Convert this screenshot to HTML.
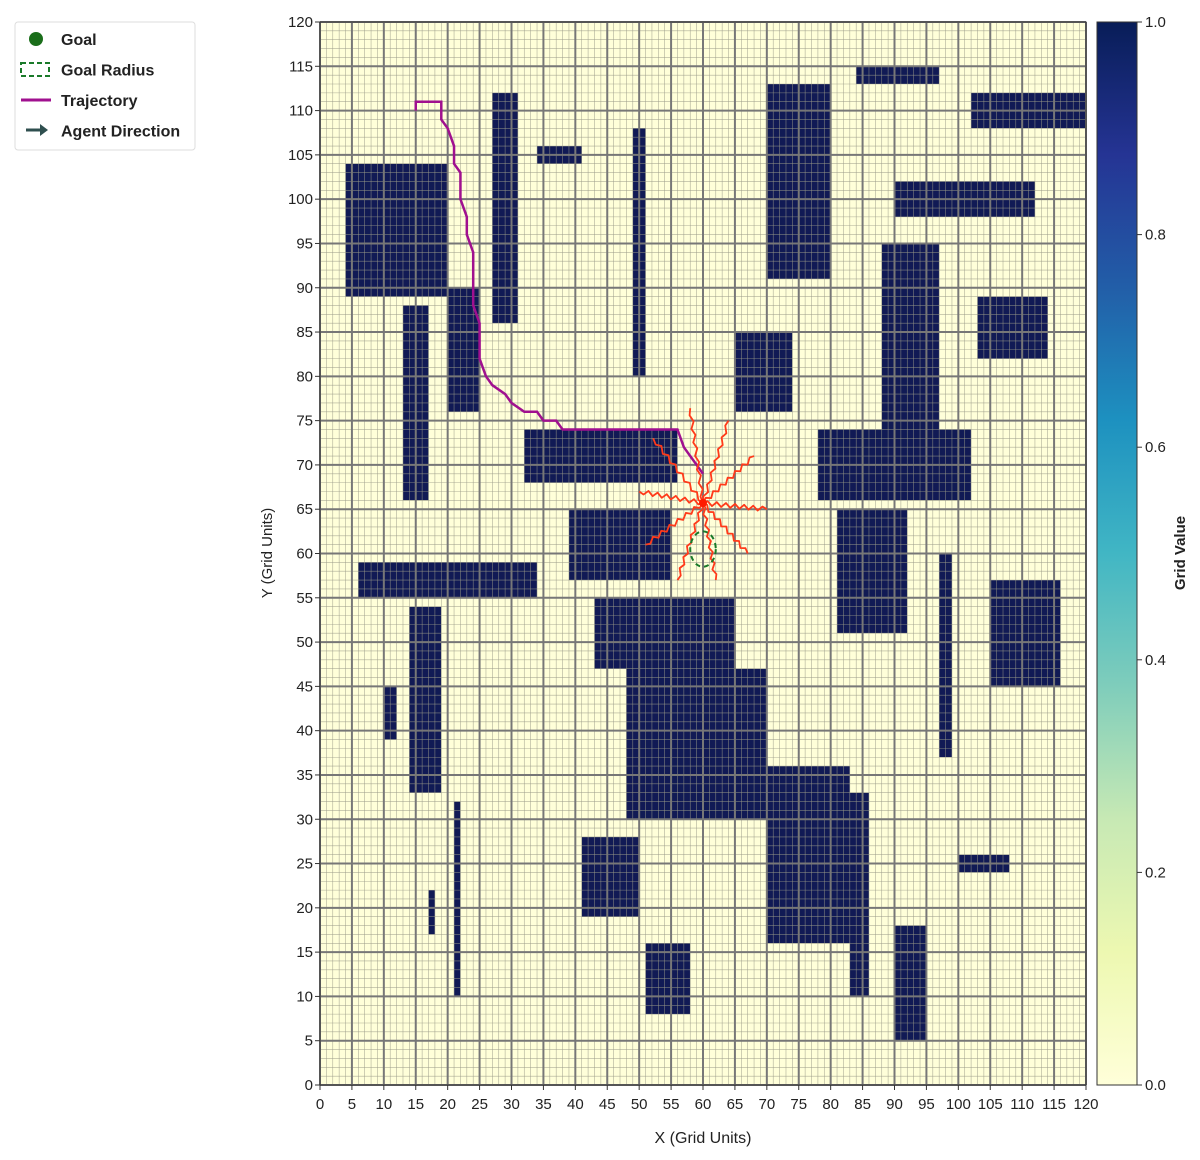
<!DOCTYPE html>
<html><head><meta charset="utf-8"><style>
body{margin:0;background:#fff;font-family:"Liberation Sans",sans-serif;}
</style></head><body>
<svg id="chart" width="1200" height="1155" xmlns="http://www.w3.org/2000/svg">
<defs><linearGradient id="cb" x1="0" y1="1" x2="0" y2="0">
<stop offset="0" stop-color="#ffffd9"/><stop offset="0.125" stop-color="#edf8b1"/><stop offset="0.25" stop-color="#c7e9b4"/><stop offset="0.375" stop-color="#7fcdbb"/><stop offset="0.5" stop-color="#41b6c4"/><stop offset="0.625" stop-color="#1d91c0"/><stop offset="0.75" stop-color="#225ea8"/><stop offset="0.875" stop-color="#253494"/><stop offset="1" stop-color="#081d58"/></linearGradient></defs>
<g id="plot"></g>
</svg>
<script>
const obstacles=[[4,20,89,104],[27,31,86,112],[34,41,104,106],[49,51,80,108],[70,80,91,113],[84,97,113,115],[102,120,108,112],[90,112,98,102],[88,97,74,95],[103,114,82,89],[65,74,76,85],[78,102,66,74],[13,17,66,88],[20,25,76,90],[32,56,68,74],[39,55,57,65],[81,92,51,65],[6,34,55,59],[14,19,33,54],[10,12,39,45],[43,65,47,55],[48,70,30,47],[70,83,16,36],[83,86,10,33],[97,99,37,60],[105,116,45,57],[100,108,24,26],[41,50,19,28],[21,22,10,32],[17,18,17,22],[51,58,8,16],[90,95,5,18]];
const trajX=[15,15,19,19,20,21,21,22,22,23,23,24,24,25,25,26,27,29,30,32,34,35,37,38,41,56,57,60];
const trajY=[110,111,111,109,108,106,104,103,100,98,96,94,88,86,82,80,79,78,77,76,76,75,75,74,74,74,72,69];
const rayEndX=[58,64,52.2,68,50,70,51,67,56,62];
const rayEndY=[76.4,75,73,71,67,65,61,60,57,57];
const agent=[60,65.7];
const goal=[60,60.5];
const xTicks=[0,5,10,15,20,25,30,35,40,45,50,55,60,65,70,75,80,85,90,95,100,105,110,115,120];
const cbTicks=[0.0,0.2,0.4,0.6,0.8,1.0];
const NS="http://www.w3.org/2000/svg";
const X0=320,X1=1086,Y0=1085,Y1=22;
const sx=v=>X0+(X1-X0)*v/120, sy=v=>Y0-(Y0-Y1)*v/120;
const g=document.getElementById('plot');
function mk(t,a,p){const e=document.createElementNS(NS,t);for(const k in a)e.setAttribute(k,a[k]);(p||g).appendChild(e);return e;}
let bg=mk('rect',{x:X0,y:Y1,width:X1-X0,height:Y0-Y1,fill:'#ffffd9'});


obstacles.forEach((o,i)=>{const r=mk('rect',{x:sx(o[0]),y:sy(o[3]),width:sx(o[1])-sx(o[0]),height:sy(o[2])-sy(o[3]),fill:'#111a55'});

});
for(let i=0;i<=120;i++){if(i%5==0)continue;
mk('line',{x1:sx(i),x2:sx(i),y1:Y1,y2:Y0,stroke:'#9a9a88','stroke-width':0.6,opacity:0.8});
mk('line',{y1:sy(i),y2:sy(i),x1:X0,x2:X1,stroke:'#9a9a88','stroke-width':0.6,opacity:0.8});}
for(let i=0;i<=120;i+=5){
mk('line',{x1:sx(i),x2:sx(i),y1:Y1,y2:Y0,stroke:'#777','stroke-width':2});
mk('line',{y1:sy(i),y2:sy(i),x1:X0,x2:X1,stroke:'#777','stroke-width':2});}
let fr=mk('rect',{x:X0,y:Y1,width:X1-X0,height:Y0-Y1,fill:'none',stroke:'#333','stroke-width':1});


xTicks.forEach(t=>{mk('line',{x1:sx(t),x2:sx(t),y1:Y0,y2:Y0+5,stroke:'#333'});
let tx=mk('text',{x:sx(t),y:Y0+24,'text-anchor':'middle','font-size':15,fill:'#222'});tx.textContent=t;


mk('line',{y1:sy(t),y2:sy(t),x1:X0-5,x2:X0,stroke:'#333'});
let ty=mk('text',{x:X0-7,y:sy(t)+5,'text-anchor':'end','font-size':15,fill:'#222'});ty.textContent=t;

});
let pts=trajX.map((v,i)=>sx(v)+','+sy(trajY[i])).join(' ');
let tr=mk('polyline',{points:pts,fill:'none',stroke:'#a0108f','stroke-width':2.5});


rayEndX.forEach((ex,i)=>{const ey=rayEndY[i];let p=[];const n=14;for(let k=0;k<=n;k++){const f=k/n;const j=(k%2?0.25:-0.25)*(k>0&&k<n?1:0);const dx=ex-agent[0],dy=ey-agent[1],L=Math.hypot(dx,dy);
p.push(sx(agent[0]+dx*f-dy/L*j)+','+sy(agent[1]+dy*f+dx/L*j));}
const r=mk('polyline',{points:p.join(' '),fill:'none',stroke:'#ff3a1a','stroke-width':1.8,'stroke-linejoin':'round'});

});
let gc=mk('ellipse',{cx:sx(goal[0]),cy:sy(goal[1]),rx:sx(2)-sx(0),ry:sy(0)-sy(2),fill:'none',stroke:'#1a7a2a','stroke-width':2,'stroke-dasharray':'5,4'});


let ag=mk('circle',{cx:sx(agent[0]),cy:sy(agent[1]),r:4,fill:'#ff1a00'});


let xl=mk('text',{x:(X0+X1)/2,y:1143,'text-anchor':'middle','font-size':16,fill:'#222'});xl.textContent='X (Grid Units)';


let yl=mk('text',{x:0,y:0,'text-anchor':'middle','font-size':15,fill:'#222',transform:'translate(272,553) rotate(-90)'});yl.textContent='Y (Grid Units)';


const CBT=22,CBB=1085;
let cb=mk('rect',{x:1097,y:CBT,width:40,height:CBB-CBT,fill:'url(#cb)',stroke:'#333','stroke-width':1});


cbTicks.forEach(t=>{const y=CBB-(CBB-CBT)*t;mk('line',{x1:1137,x2:1142,y1:y,y2:y,stroke:'#333'});
let tt=mk('text',{x:1145,y:y+5,'font-size':15,fill:'#222'});tt.textContent=t.toFixed(1);

});
let ct=mk('text',{x:0,y:0,'text-anchor':'middle','font-size':15,'font-weight':'bold',fill:'#222',transform:'translate(1185,553) rotate(-90)'});ct.textContent='Grid Value';


const lg=mk('g',{});


mk('rect',{x:15,y:22,width:180,height:128,fill:'#fff',stroke:'#ddd',rx:3},lg);
mk('circle',{cx:36,cy:39,r:7,fill:'#1a6e1a'},lg);
mk('rect',{x:21,y:63,width:28,height:13,fill:'none',stroke:'#1a7a2a','stroke-width':2,'stroke-dasharray':'5,3'},lg);
mk('line',{x1:21,x2:51,y1:100,y2:100,stroke:'#a0108f','stroke-width':3},lg);
mk('line',{x1:26,x2:44,y1:130,y2:130,stroke:'#2f4f4f','stroke-width':3},lg);
mk('path',{d:'M40 124 L48 130 L40 136 Z',fill:'#2f4f4f'},lg);
['Goal','Goal Radius','Trajectory','Agent Direction'].forEach((s,i)=>{const t=mk('text',{x:61,y:45+i*30.5,'font-size':16,'font-weight':'bold',fill:'#222'},lg);t.textContent=s;

});
</script>
</body></html>
